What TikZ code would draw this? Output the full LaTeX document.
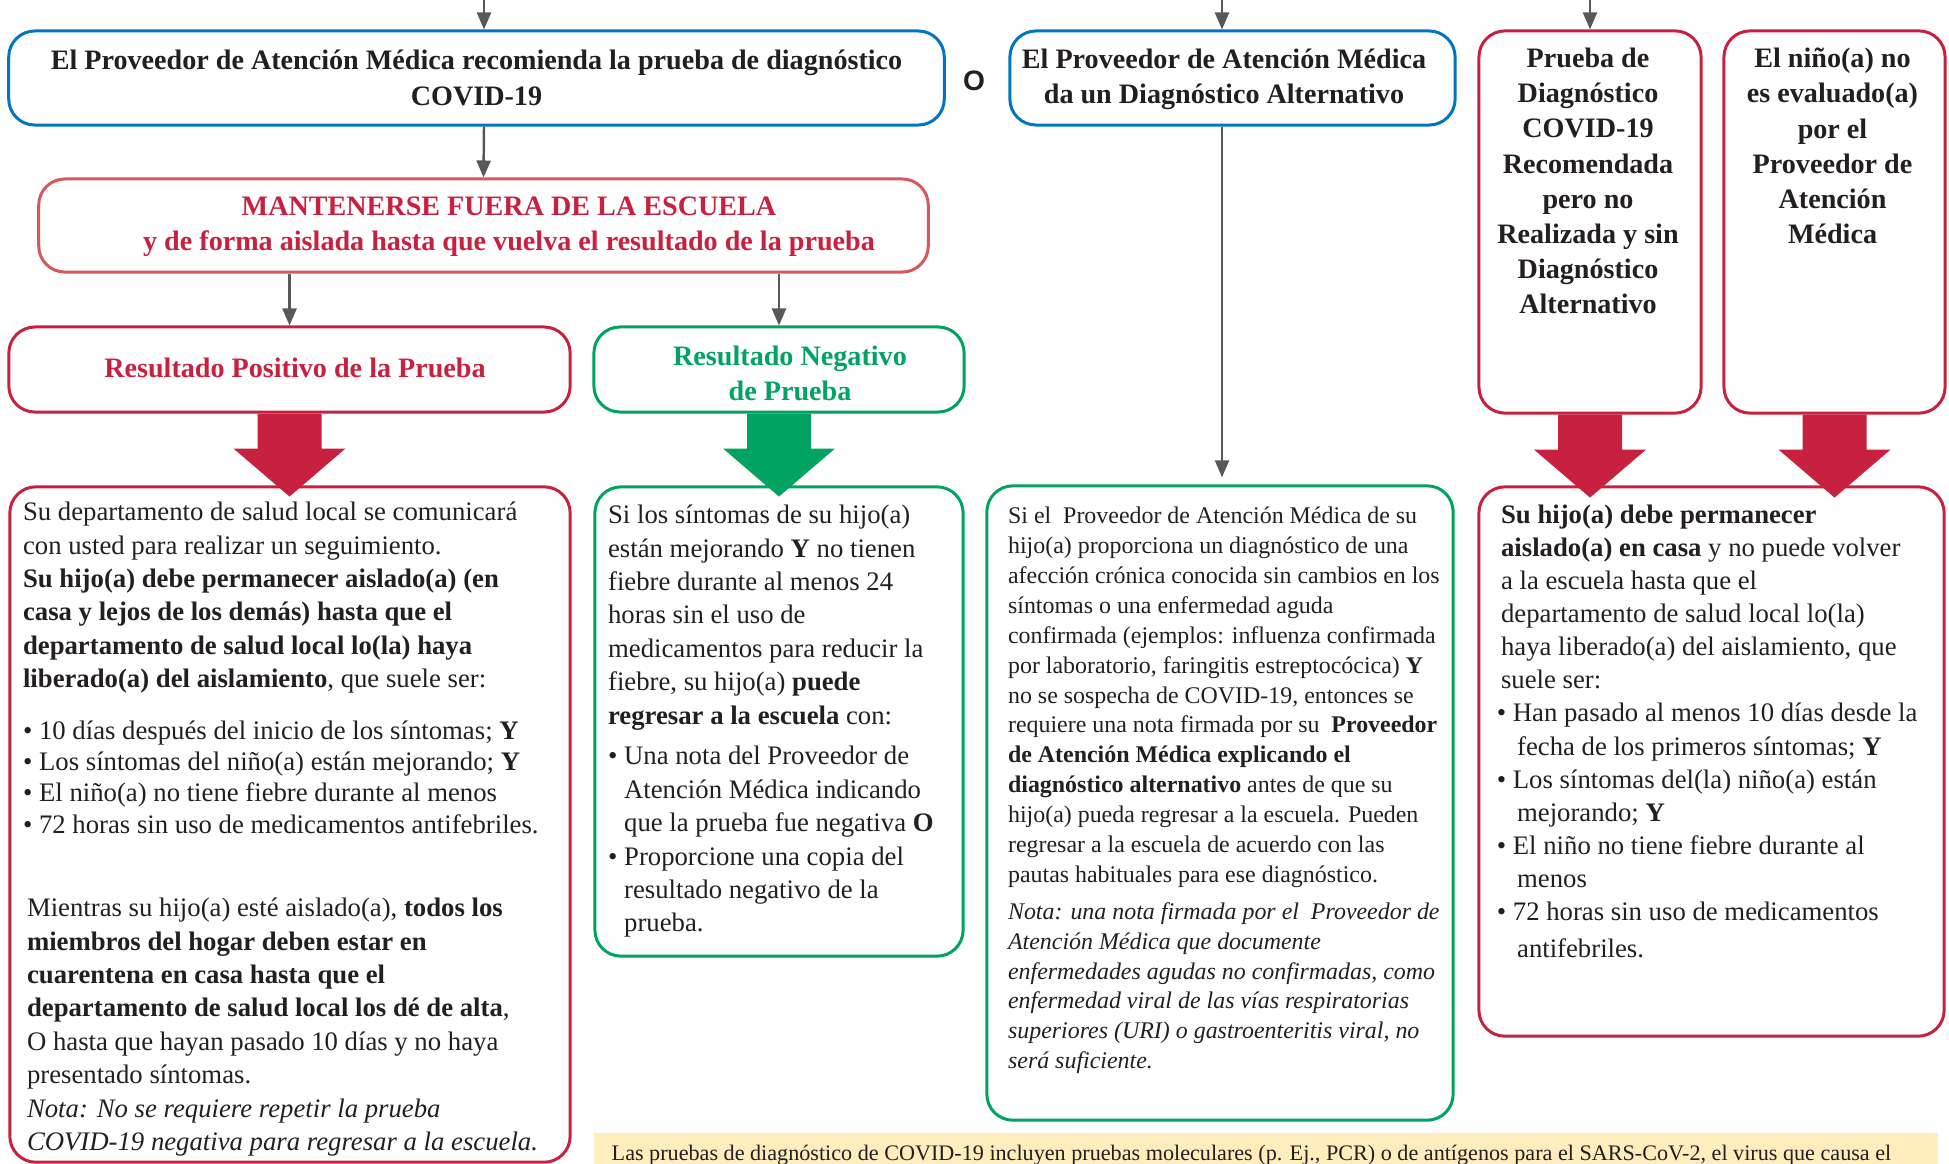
\documentclass[tikz,border=0pt]{standalone}
\usepackage{fontspec}
\setmainfont{Liberation Serif}
\setsansfont{Liberation Sans}
\usetikzlibrary{arrows.meta,calc}
\definecolor{cblue}{RGB}{0,118,192}
\definecolor{cred}{RGB}{200,33,63}
\definecolor{clred}{RGB}{214,88,92}
\definecolor{cgreen}{RGB}{0,163,98}
\definecolor{cgrey}{RGB}{88,88,90}
\definecolor{cyellow}{RGB}{255,237,190}
\definecolor{ctext}{RGB}{35,31,32}
\newcommand\fatarrow[2]{% colour, source node
  \fill[#1] ($(#2.south)+(-32,0)$) -- ($(#2.south)+(32,0)$) -- ($(#2.south)+(32,35)$)
    -- ($(#2.south)+(56,35)$) -- ($(#2.south)+(0,83)$) -- ($(#2.south)+(-56,35)$)
    -- ($(#2.south)+(-32,35)$) -- cycle;}
\begin{document}
\begin{tikzpicture}[x=0.01cm, y=-0.01cm,
  every node/.style={text=ctext, inner sep=0pt},
  box/.style={draw, rounded corners=0.26cm, line width=0.85pt},
  head/.style={font=\fontsize{8}{10}\selectfont\bfseries, align=center},
  body/.style={font=\fontsize{7.6}{9.5}\selectfont, align=left, anchor=north west},
  small/.style={font=\fontsize{6.8}{8.5}\selectfont, align=left, anchor=north west},
  link/.style={draw=cgrey, line width=0.7pt, -{Triangle[length=0.17cm,width=0.14cm]}}]
\clip (0,0) rectangle (1949,1163);
\fill[white] (0,0) rectangle (1949,1163);
%
\node[box, draw=cblue, minimum width=9.35cm, minimum height=0.94cm, head] (A) at (476.5,78)
  {El Proveedor de Atención Médica recomienda la prueba de diagnóstico\\COVID-19};
\node[font=\sffamily\bfseries\fontsize{8}{8}\selectfont] (O) at (974,81) {O};
\node[box, draw=cblue, minimum width=4.45cm, minimum height=0.94cm] (B) at (1232.5,78) {};
\node[head] (Btxt) at (1224,79) {El Proveedor de Atención Médica\\da un Diagnóstico Alternativo};
\node[box, draw=cred, minimum width=2.22cm, minimum height=3.82cm] (C) at (1590,222) {};
\node[head, anchor=north] (Ctxt) at ($(C.north)+(-2,18)$)
  {Prueba de\\Diagnóstico\\COVID-19\\Recomendada\\pero no\\Realizada y sin\\Diagnóstico\\Alternativo};
\node[box, draw=cred, minimum width=2.21cm, minimum height=3.82cm] (D) at (1834.5,222) {};
\node[head, anchor=north] (Dtxt) at ($(D.north)+(-2,18)$)
  {El niño(a) no\\es evaluado(a)\\por el\\Proveedor de\\Atención\\Médica};
%
\coordinate (inA) at (484,-5);
\coordinate (inB) at (1222,-5);
\coordinate (inC) at (1590,-5);
\draw[link] (inA) -- (inA |- A.north);
\draw[link] (inB) -- (inB |- B.north);
\draw[link] (inC) -- (C.north);
%
\node[box, draw=clred, minimum width=8.89cm, minimum height=0.93cm] (M) at (483.5,225.5) {};
\node[head, text=cred] (Mtxt) at (509,227)
  {MANTENERSE FUERA DE LA ESCUELA\\y de forma aislada hasta que vuelva el resultado de la prueba};
\draw[link] (inA |- A.south) -- (M.north);
%
\node[box, draw=cred, minimum width=5.61cm, minimum height=0.85cm] (P) at (289.5,369.5) {};
\node[head, text=cred] (Ptxt) at (295,368) {Resultado Positivo de la Prueba};
\node[box, draw=cgreen, minimum width=3.70cm, minimum height=0.85cm] (N) at (779,369.5) {};
\node[head, text=cgreen] (Ntxt) at (790,373) {Resultado Negativo\\de Prueba};
\draw[link] (M.south -| P.north) -- (P.north);
\draw[link] (M.south -| N.north) -- (N.north);
%
\node[box, draw=cred, minimum width=5.60cm, minimum height=6.75cm] (PB) at (290,824.5) {};
\node[box, draw=cgreen, minimum width=3.68cm, minimum height=4.69cm] (NB) at (779,721.5) {};
\node[box, draw=cgreen, minimum width=4.66cm, minimum height=6.34cm] (AB) at (1220,803) {};
\node[box, draw=cred, minimum width=4.65cm, minimum height=5.49cm] (R) at (1711.5,761.5) {};
\draw[link, shorten >=0.07cm] (inB |- B.south) -- (inB |- AB.north);
%
\fatarrow{cred}{P}
\fatarrow{cgreen}{N}
\fatarrow{cred}{C}
\fatarrow{cred}{D}
%
\node[body] (PBtxt) at ($(PB.north west)+(14,16)$) {%
Su departamento de salud local se comunicará\\
con usted para realizar un seguimiento.\\
\textbf{Su hijo(a) debe permanecer aislado(a) (en}\\
\textbf{casa y lejos de los demás) hasta que el}\\
\textbf{departamento de salud local lo(la) haya}\\
\textbf{liberado(a) del aislamiento}, que suele ser:\\[5.2pt]
• 10 días después del inicio de los síntomas; \textbf{Y}\\[-0.6pt]
• Los síntomas del niño(a) están mejorando; \textbf{Y}\\[-0.6pt]
• El niño(a) no tiene fiebre durante al menos\\[-0.6pt]
• 72 horas sin uso de medicamentos antifebriles.};
\node[body] (PBtxt2) at ($(PB.north west)+(18,412)$) {%
Mientras su hijo(a) esté aislado(a), \textbf{todos los}\\
\textbf{miembros del hogar deben estar en}\\
\textbf{cuarentena en casa hasta que el}\\
\textbf{departamento de salud local los dé de alta},\\
O hasta que hayan pasado 10 días y no haya\\
presentado síntomas.\\
\textit{Nota: No se requiere repetir la prueba}\\
\textit{COVID-19 negativa para regresar a la escuela.}};
%
\node[body] (NBtxt) at ($(NB.north west)+(14,19)$) {%
Si los síntomas de su hijo(a)\\
están mejorando \textbf{Y} no tienen\\
fiebre durante al menos 24\\
horas sin el uso de\\
medicamentos para reducir la\\
fiebre, su hijo(a) \textbf{puede}\\
\textbf{regresar a la escuela} con:\\[2.1pt]
• Una nota del Proveedor de\\
\phantom{• }Atención Médica indicando\\
\phantom{• }que la prueba fue negativa \textbf{O}\\
• Proporcione una copia del\\
\phantom{• }resultado negativo de la\\
\phantom{• }prueba.};
%
\node[small] (ABtxt) at ($(AB.north west)+(22,22)$) {%
Si el \ Proveedor de Atención Médica de su\\
hijo(a) proporciona un diagnóstico de una\\
afección crónica conocida sin cambios en los\\
síntomas o una enfermedad aguda\\
confirmada (ejemplos: influenza confirmada\\
por laboratorio, faringitis estreptocócica) \textbf{Y}\\
no se sospecha de COVID-19, entonces se\\
requiere una nota firmada por su \ \textbf{Proveedor}\\
\textbf{de Atención Médica explicando el}\\
\textbf{diagnóstico alternativo} antes de que su\\
hijo(a) pueda regresar a la escuela. Pueden\\
regresar a la escuela de acuerdo con las\\
pautas habituales para ese diagnóstico.\\[2pt]
\textit{Nota: una nota firmada por el \ Proveedor de}\\
\textit{Atención Médica que documente}\\
\textit{enfermedades agudas no confirmadas, como}\\
\textit{enfermedad viral de las vías respiratorias}\\
\textit{superiores (URI) o gastroenteritis viral, no}\\
\textit{será suficiente.}};
%
\node[body, font=\fontsize{7.6}{9.4}\selectfont] (Rtxt) at ($(R.north west)+(23,19)$) {%
\textbf{Su hijo(a) debe permanecer}\\
\textbf{aislado(a) en casa} y no puede volver\\
a la escuela hasta que el\\
departamento de salud local lo(la)\\
haya liberado(a) del aislamiento, que\\
suele ser:\\
\hspace*{-1.2pt}• Han pasado al menos 10 días desde la\\
\phantom{• }fecha de los primeros síntomas; \textbf{Y}\\
\hspace*{-1.2pt}• Los síntomas del(la) niño(a) están\\
\phantom{• }mejorando; \textbf{Y}\\
\hspace*{-1.2pt}• El niño no tiene fiebre durante al\\
\phantom{• }menos\\
\hspace*{-1.2pt}• 72 horas sin uso de medicamentos\\[1.2pt]
\phantom{• }antifebriles.};
%
\node[fill=cyellow, minimum width=13.43cm, minimum height=0.7cm, anchor=north west] (F) at (593,1132) {};
\node[anchor=base west, font=\fontsize{6.3}{7.5}\selectfont] (Ftxt) at (611,1160)
  {Las pruebas de diagnóstico de COVID-19 incluyen pruebas moleculares (p. Ej., PCR) o de antígenos para el SARS-CoV-2, el virus que causa el};
\end{tikzpicture}
\end{document}
